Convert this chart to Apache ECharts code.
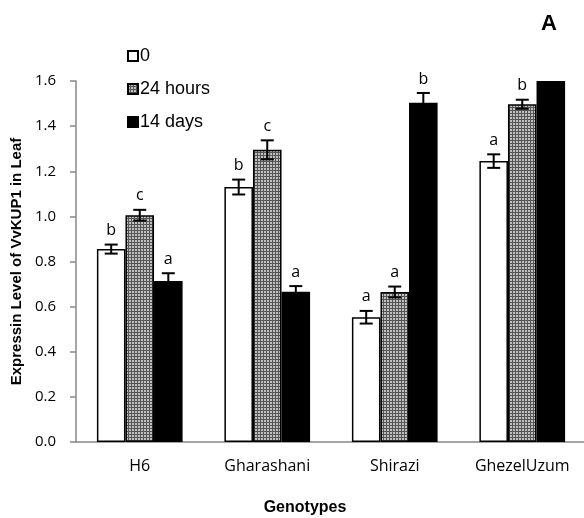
<!DOCTYPE html>
<html>
<head>
<meta charset="utf-8">
<script src="https://cdn.jsdelivr.net/npm/echarts@6/dist/echarts.min.js"></script>
<style>
  html, body { margin: 0; padding: 0; background: #fff; }
  #main { width: 584px; height: 518px; }
</style>
</head>
<body>
<div id="main"></div>
<script>
const categories = ['H6', 'Gharashani', 'Shirazi', 'GhezelUzum']
const seriesNames = ['0', '24 hours', '14 days']
const values0h = [0.855, 1.13, 0.553, 1.245]
const values24h = [1.005, 1.295, 0.665, 1.497]
const values14d = [0.714, 0.666, 1.504, 1.6]
const err0h = [0.02, 0.033, 0.028, 0.03]
const err24h = [0.024, 0.042, 0.024, 0.02]
const err14d = [0.034, 0.025, 0.043, 0]
const letters0h = ['b', 'b', 'a', 'a']
const letters24h = ['c', 'c', 'a', 'b']
const letters14d = ['a', 'a', 'b', '']
const yTicks = [0, 0.2, 0.4, 0.6, 0.8, 1.0, 1.2, 1.4, 1.6]

const chart = echarts.init(document.getElementById('main'))

// checkered grey fill for the 24 hours bars
const pat = document.createElement('canvas')
pat.width = 3
pat.height = 3
const pctx = pat.getContext('2d')
pctx.fillStyle = '#555'
pctx.fillRect(0, 0, 3, 3)
pctx.fillStyle = '#c0c0c0'
pctx.fillRect(0, 0, 2, 2)
const greyPattern = { image: pat, repeat: 'repeat' }

const barRatio = 0.224
const groups = [
  { vals: values0h, errs: err0h, letters: letters0h, color: '#fff' },
  { vals: values24h, errs: err24h, letters: letters24h, color: greyPattern },
  { vals: values14d, errs: err14d, letters: letters14d, color: '#000' }
]

const series = []
groups.forEach((g, k) => {
  series.push({
    name: seriesNames[k],
    type: 'bar',
    barWidth: (barRatio * 100) + '%',
    barGap: '0%',
    itemStyle: { color: g.color, borderColor: '#000', borderWidth: 1.5 },
    emphasis: { disabled: true },
    data: g.vals
  })
})
groups.forEach((g, k) => {
  series.push({
    type: 'custom',
    z: 5,
    silent: true,
    encode: { x: 0, y: 1 },
    data: g.vals.map((v, i) => [i, v, g.errs[i]]),
    renderItem: function (params, api) {
      const ci = api.value(0)
      const m = api.value(1)
      const e = api.value(2)
      const bw = api.size([1, 0])[0] * barRatio
      const x = api.coord([ci, m])[0] + (k - 1) * bw
      const top = api.coord([ci, m + e])[1]
      const bot = api.coord([ci, m - e])[1]
      const children = []
      const ls = { stroke: '#000', lineWidth: 2 }
      if (e > 0) {
        children.push({ type: 'line', shape: { x1: x, y1: top, x2: x, y2: bot }, style: ls })
        children.push({ type: 'line', shape: { x1: x - 6.5, y1: top, x2: x + 6.5, y2: top }, style: ls })
        children.push({ type: 'line', shape: { x1: x - 6.5, y1: bot, x2: x + 6.5, y2: bot }, style: ls })
      }
      const letter = g.letters[params.dataIndex]
      if (letter) {
        children.push({
          type: 'text',
          style: {
            x: x, y: top - 6, text: letter,
            fill: '#000', font: '16px "Open Sans"',
            align: 'center', verticalAlign: 'bottom'
          }
        })
      }
      return { type: 'group', children: children }
    }
  })
})

const option = {
  animation: false,
  title: {
    text: 'A',
    right: 22,
    top: 8,
    textStyle: { fontSize: 22, fontWeight: 'bold', fontFamily: 'Liberation Sans', color: '#000' }
  },
  legend: {
    orient: 'vertical',
    left: 122,
    top: 42,
    itemWidth: 10,
    itemHeight: 10,
    itemGap: 15,
    icon: 'rect',
    data: seriesNames,
    textStyle: { fontSize: 18, fontFamily: 'Liberation Sans', color: '#000', padding: [0, 0, 0, -3] }
  },
  grid: { left: 76, top: 81, width: 510, bottom: 76, outerBoundsMode: 'none', containLabel: false },
  xAxis: {
    type: 'category',
    data: categories,
    name: 'Genotypes',
    nameLocation: 'middle',
    nameGap: 58,
    nameTextStyle: { fontSize: 16, fontWeight: 'bold', fontFamily: 'Liberation Sans', color: '#000', padding: [0, 52, 0, 0] },
    axisLine: { lineStyle: { color: '#888', width: 1.5 } },
    axisTick: { length: 5, lineStyle: { color: '#888', width: 1.5 } },
    axisLabel: { margin: 16, fontSize: 16, fontFamily: 'Open Sans', color: '#000' }
  },
  yAxis: {
    type: 'value',
    min: 0,
    max: 1.6,
    interval: 0.2,
    name: 'Expressin Level of VvKUP1 in Leaf',
    nameLocation: 'middle',
    nameGap: 50,
    nameTextStyle: { fontSize: 15, fontWeight: 'bold', fontFamily: 'Liberation Sans', color: '#000' },
    axisLine: { show: true, lineStyle: { color: '#888', width: 1.5 } },
    axisTick: { show: true, length: 6, lineStyle: { color: '#888', width: 1.5 } },
    splitLine: { show: false },
    axisLabel: {
      margin: 20,
      fontSize: 15,
      fontFamily: 'Open Sans',
      color: '#000',
      formatter: v => yTicks.includes(Math.round(v * 10) / 10) ? v.toFixed(1) : ''
    }
  },
  series: series
}
chart.setOption(option)
</script>
</body>
</html>
